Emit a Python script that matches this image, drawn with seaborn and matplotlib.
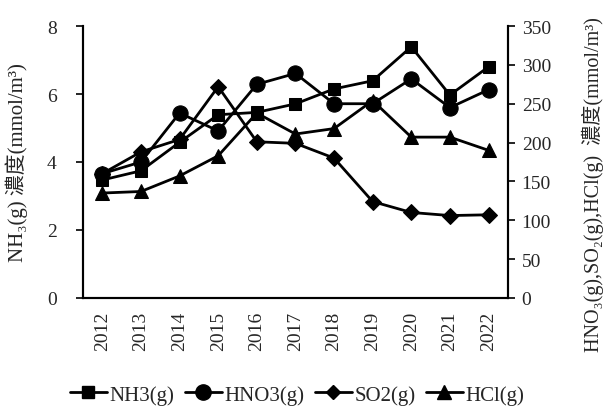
import matplotlib
matplotlib.use("Agg")
import matplotlib.pyplot as plt
import seaborn as sns
import pandas as pd
from matplotlib.lines import Line2D

years = ["2012", "2013", "2014", "2015", "2016", "2017", "2018", "2019", "2020", "2021", "2022"]
nh3 = [3.47, 3.74, 4.58, 5.39, 5.46, 5.71, 6.15, 6.39, 7.39, 5.97, 6.80]
hno3 = [160, 175, 238, 215, 275, 289, 250, 250, 282, 245, 268]
so2 = [160, 188, 204, 272, 201, 199, 180, 124, 110, 106, 107]
hcl = [135, 137, 157, 183, 238, 211, 218, 254, 207, 207, 190]

sns.set_theme(style="ticks")
fam = ["Liberation Serif", "Noto Sans CJK TC", "DejaVu Sans"]
plt.rcParams["font.family"] = fam
plt.rcParams["font.size"] = 14

x = list(range(len(years)))
df = pd.DataFrame({"x": x, "NH3": nh3, "HNO3": hno3, "SO2": so2, "HCl": hcl})

fig = plt.figure(figsize=(6.06, 4.10), dpi=100)
ax = fig.add_axes([0.137, 0.271, 0.701, 0.663])
ax2 = ax.twinx()

lw = 2.0
sns.lineplot(data=df, x="x", y="NH3", ax=ax, color="black", marker="s", markersize=8,
             linewidth=lw, markeredgecolor="black")
sns.lineplot(data=df, x="x", y="HNO3", ax=ax2, color="black", marker="o", markersize=11,
             linewidth=lw, markeredgecolor="black")
sns.lineplot(data=df, x="x", y="SO2", ax=ax2, color="black", marker="D", markersize=8,
             linewidth=lw, markeredgecolor="black")
sns.lineplot(data=df, x="x", y="HCl", ax=ax2, color="black", marker="^", markersize=10,
             linewidth=lw, markeredgecolor="black")

ax.set_xlim(-0.5, len(years) - 0.5)
ax.set_ylim(0, 8)
ax.set_yticks([0, 2, 4, 6, 8])
ax2.set_ylim(0, 350)
ax2.set_yticks(range(0, 351, 50))
ax.set_xticks(x)
ax.set_xticklabels(years, rotation=90)
ax.tick_params(axis="x", length=0, labelsize=14, pad=9)
ax.tick_params(axis="y", length=5, width=1.2, labelsize=14, direction="out", color="black", pad=14)
ax2.tick_params(axis="y", length=5, width=1.2, labelsize=14, direction="out", color="black", pad=5)

for a in (ax, ax2):
    a.spines["top"].set_visible(False)
    for s in ("left", "right", "bottom"):
        a.spines[s].set_color("black")
        a.spines[s].set_linewidth(1.5)

ax.set_xlabel("")
ax.set_ylabel("NH₃(g) 濃度(mmol/m³)", fontsize=15, family=fam)
ax.yaxis.set_label_coords(-0.13, 0.5)
ax2.set_ylabel("HNO₃(g),SO₂(g),HCl(g)  濃度(mmol/m³)", fontsize=14.5, family=fam)
ax2.yaxis.set_label_coords(1.175, 0.42)

handles = [
    Line2D([], [], color="black", marker="s", markersize=8, linewidth=lw),
    Line2D([], [], color="black", marker="o", markersize=11, linewidth=lw),
    Line2D([], [], color="black", marker="D", markersize=7, linewidth=lw),
    Line2D([], [], color="black", marker="^", markersize=10, linewidth=lw),
]
labels = ["NH3(g)", "HNO3(g)", "SO2(g)", "HCl(g)"]
fig.legend(handles, labels, loc="lower center", bbox_to_anchor=(0.49, -0.035), ncol=4,
           frameon=False, fontsize=15, handlelength=1.8, handletextpad=0.1, columnspacing=0.5)

fig.savefig("out.png", dpi=100)
